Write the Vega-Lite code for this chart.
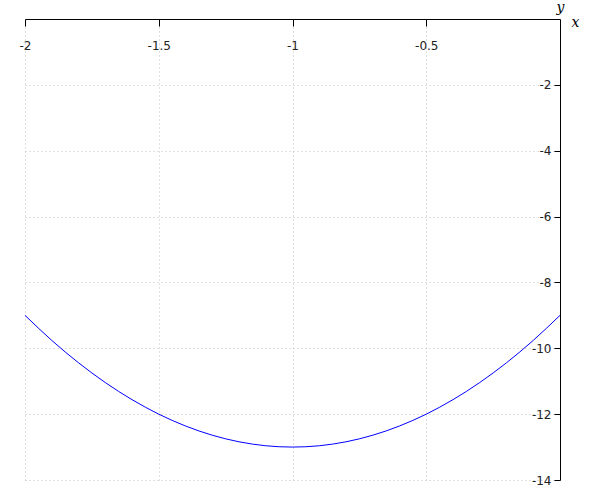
{
  "$schema": "https://vega.github.io/schema/vega-lite/v6.json",
  "width": 535,
  "height": 461,
  "autosize": {"type": "none"},
  "padding": {"left": 25, "top": 19, "right": 40, "bottom": 20},
  "background": "white",
  "config": {"view": {"stroke": null}},
  "data": {"values": [
    {"x": -2.0, "y": -9.0}, {"x": -1.9, "y": -9.76}, {"x": -1.8, "y": -10.44}, {"x": -1.7, "y": -11.04},
    {"x": -1.6, "y": -11.56}, {"x": -1.5, "y": -12.0}, {"x": -1.4, "y": -12.36}, {"x": -1.3, "y": -12.64},
    {"x": -1.2, "y": -12.84}, {"x": -1.1, "y": -12.96}, {"x": -1.0, "y": -13.0}, {"x": -0.9, "y": -12.96},
    {"x": -0.8, "y": -12.84}, {"x": -0.7, "y": -12.64}, {"x": -0.6, "y": -12.36}, {"x": -0.5, "y": -12.0},
    {"x": -0.4, "y": -11.56}, {"x": -0.3, "y": -11.04}, {"x": -0.2, "y": -10.44}, {"x": -0.1, "y": -9.76},
    {"x": 0.0, "y": -9.0}
  ]},
  "mark": {"type": "line", "color": "#0000ff", "strokeWidth": 1, "interpolate": "monotone", "clip": true},
  "encoding": {
    "x": {
      "field": "x", "type": "quantitative",
      "scale": {"domain": [-2, 0], "nice": false, "zero": false},
      "axis": {
        "orient": "bottom", "offset": -461,
        "values": [-2, -1.5, -1, -0.5],
        "labelExpr": "toString(datum.value)",
        "domainColor": "#000", "domainWidth": 1,
        "tickColor": "#000", "tickSize": 7, "tickWidth": 1,
        "labelFont": "DejaVu Sans", "labelFontSize": 12, "labelColor": "#222", "labelPadding": 14,
        "labelFlush": false, "labelOverlap": false,
        "grid": true, "gridColor": "#c0c0c0", "gridDash": [1, 3], "gridWidth": 1,
        "title": "x", "titleFont": "DejaVu Serif", "titleFontStyle": "italic", "titleFontWeight": "normal",
        "titleFontSize": 14, "titleColor": "#000", "titleX": 546, "titleY": 3, "titleAlign": "left", "titleBaseline": "middle", "titleAnchor": null
      }
    },
    "y": {
      "field": "y", "type": "quantitative",
      "scale": {"domain": [-14, 0], "nice": false, "zero": false},
      "axis": {
        "orient": "left", "offset": -535,
        "values": [-2, -4, -6, -8, -10, -12, -14],
        "labelExpr": "toString(datum.value)",
        "domainColor": "#000", "domainWidth": 1,
        "tickColor": "#000", "tickSize": 6, "tickWidth": 1,
        "labelFont": "DejaVu Sans", "labelFontSize": 12, "labelColor": "#222", "labelPadding": 3,
        "labelFlush": false, "labelOverlap": false,
        "grid": true, "gridColor": "#c0c0c0", "gridDash": [1, 3], "gridWidth": 1,
        "title": "y", "titleFont": "DejaVu Serif", "titleFontStyle": "italic", "titleFontWeight": "normal",
        "titleFontSize": 14, "titleColor": "#000", "titleAngle": 0, "titleX": 0, "titleY": -12, "titleAlign": "center", "titleBaseline": "middle", "titleAnchor": null
      }
    }
  }
}
